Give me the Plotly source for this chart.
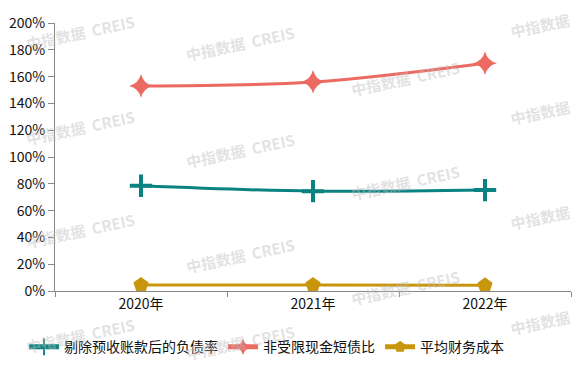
import plotly.graph_objects as go

categories = ["2020年", "2021年", "2022年"]
debt_ratio = [78.5, 74.5, 75.3]          # 剔除预收账款后的负债率 (%)
cash_short_debt = [153.0, 156.0, 170.0]  # 非受限现金短债比 (%)
finance_cost = [4.5, 4.5, 4.2]           # 平均财务成本 (%)
y_ticks = [0, 20, 40, 60, 80, 100, 120, 140, 160, 180, 200]

# page body has an 8px default margin, compensate for it
OFF = 8
W, H = 580 - OFF, 367 - OFF
L, R, T, B = 55 - OFF, 9, 23 - OFF, 76
pw, ph = W - L - R, H - T - B

fig = go.Figure()
fig.add_trace(go.Scatter(
    x=categories, y=debt_ratio, name="剔除预收账款后的负债率",
    mode="lines+markers", line=dict(color="#0b8282", width=3, shape="spline"),
    marker=dict(symbol="cross-thin", size=16, color="#0b8282",
                line=dict(color="#0b8282", width=4))))
fig.add_trace(go.Scatter(
    x=categories, y=cash_short_debt, name="非受限现金短债比",
    mode="lines+markers", line=dict(color="#ec6a62", width=3, shape="spline"),
    marker=dict(symbol="star-diamond", size=17, color="#ec6a62")))
fig.add_trace(go.Scatter(
    x=categories, y=finance_cost, name="平均财务成本",
    mode="lines+markers", line=dict(color="#c8960c", width=3, shape="spline"),
    marker=dict(symbol="pentagon", size=16, color="#c8960c")))

# watermark positions (page pixel centres) and texts
wm = [(80, 32, 0), (240, 44, 0), (405, 78, 0), (540, 26, 1),
      (80, 127, 0), (240, 150, 0), (405, 182, 0), (540, 112, 1),
      (80, 230, 0), (240, 255, 0), (405, 287, 0), (540, 217, 1),
      (80, 335, 0), (240, 342, 0), (540, 322, 1)]
wm_text = ["<b>中指数据  CREIS</b>", "<b>中指数据</b>"]
for px, py, k in wm:
    fig.add_annotation(
        x=(px - OFF - L) / pw, y=(H - B - (py - OFF)) / ph,
        xref="paper", yref="paper",
        text=wm_text[k], showarrow=False, textangle=-12,
        font=dict(size=15, color="rgba(190,190,190,0.45)",
                  family="Noto Sans CJK SC"),
        xanchor="center", yanchor="middle")

fig.update_layout(
    width=W, height=H,
    margin=dict(l=L, r=R, t=T, b=B, autoexpand=False),
    paper_bgcolor="white", plot_bgcolor="white",
    font=dict(family="Noto Sans CJK SC, Noto Sans, sans-serif", size=14, color="#111"),
    showlegend=True,
    legend=dict(orientation="h", x=0.41, xanchor="center", y=-0.15, yanchor="top",
                font=dict(size=14, color="#111"),
                tracegroupgap=0, itemsizing="constant"),
)
fig.update_xaxes(
    type="category", range=[-0.5, 2.5], tickson="boundaries", automargin=False,
    showline=True, linecolor="#888", linewidth=1,
    ticks="outside", ticklen=5, tickcolor="#888",
    showgrid=False, zeroline=False, tickfont=dict(size=14, color="#111"))
fig.update_yaxes(
    range=[0, 200], tickvals=y_ticks, ticktext=[f"{v}%" for v in y_ticks],
    automargin=False,
    showline=True, linecolor="#888", linewidth=1,
    ticks="outside", ticklen=6, tickcolor="#888",
    showgrid=False, zeroline=False, tickfont=dict(size=14, color="#111"))

fig.write_html("out.html")
